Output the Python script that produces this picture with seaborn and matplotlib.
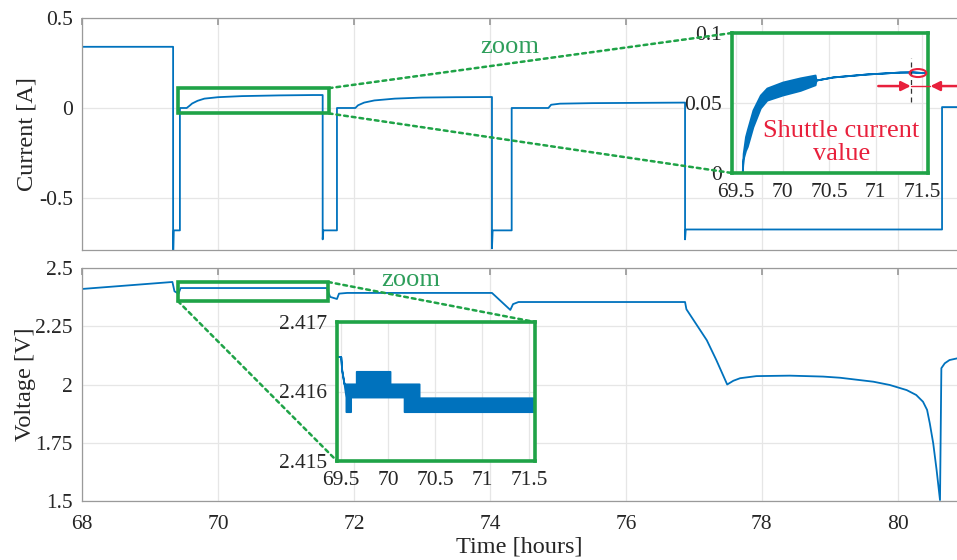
import matplotlib
matplotlib.use("Agg")
import matplotlib.pyplot as plt
import matplotlib.ticker as mticker
from matplotlib.patches import Rectangle, Ellipse, ConnectionPatch
import seaborn as sns

# ---------------- data ----------------
cur_t = [68.0, 69.34, 69.34, 69.35, 69.44, 69.44, 69.54, 69.58, 69.62, 69.70, 69.80,
         70.00, 70.35, 70.90, 71.40, 71.54, 71.54, 71.55, 71.75, 71.75, 72.02, 72.06,
         72.15, 72.30, 72.60, 73.00, 73.50, 74.03, 74.03, 74.04, 74.32, 74.32, 74.86,
         74.90, 75.03, 75.50, 76.40, 76.87, 76.87, 76.88, 80.65, 80.65, 80.90]
cur_v = [0.34, 0.34, -0.85, -0.68, -0.68, 0.0, 0.0, 0.012, 0.025, 0.040, 0.052,
         0.060, 0.066, 0.070, 0.072, 0.072, -0.73, -0.68, -0.68, 0.0, 0.0, 0.015,
         0.030, 0.042, 0.052, 0.058, 0.060, 0.061, -0.78, -0.68, -0.68, 0.0, 0.0,
         0.018, 0.024, 0.027, 0.029, 0.030, -0.73, -0.675, -0.675, 0.005, 0.005]

volt_t = [68.0, 69.33, 69.36, 69.42, 69.45, 71.60, 71.65, 71.75, 71.78, 71.90, 74.03,
          74.06, 74.30, 74.34, 74.42, 76.87, 76.89, 77.19, 77.33, 77.49, 77.58, 77.68,
          77.92, 78.41, 78.90, 79.15, 79.64, 79.88, 80.13, 80.27, 80.37, 80.43, 80.47,
          80.52, 80.57, 80.62, 80.64, 80.69, 80.76, 80.87]
volt_v = [2.41, 2.44, 2.40, 2.39, 2.414, 2.414, 2.376, 2.367, 2.39, 2.393, 2.393,
          2.385, 2.32, 2.345, 2.354, 2.354, 2.323, 2.19, 2.105, 2.0, 2.016, 2.027,
          2.036, 2.038, 2.034, 2.029, 2.012, 1.998, 1.976, 1.955, 1.926, 1.891, 1.833,
          1.748, 1.633, 1.504, 2.07, 2.091, 2.105, 2.112]

# zoomed current (noisy band: upper / lower envelope)
ci_t = [69.565, 69.575, 69.60, 69.62, 69.68, 69.76, 69.83, 70.00, 70.19, 70.35,
        70.36, 70.54, 70.90, 71.26, 71.40, 71.55]
ci_upper = [0.000, 0.014, 0.026, 0.031, 0.045, 0.0557, 0.0607, 0.065, 0.068, 0.070,
            0.0664, 0.0686, 0.0707, 0.0721, 0.0722, 0.0716]
ci_lower = [0.000, 0.010, 0.016, 0.019, 0.033, 0.0464, 0.052, 0.0557, 0.059, 0.063,
            0.0664, 0.0686, 0.0707, 0.0721, 0.0722, 0.0716]

# zoomed voltage (quantised band: upper / lower envelope)
vz_t = [69.44, 69.495, 69.505, 69.53, 69.55, 69.55, 69.60, 69.60, 69.66, 69.66,
        70.02, 70.02, 70.17, 70.17, 70.33, 70.33, 71.56]
vz_upper = [2.41651, 2.41650, 2.41631, 2.41611, 2.41611, 2.41611, 2.41611, 2.41611,
            2.41611, 2.41629, 2.41629, 2.41611, 2.41611, 2.41611, 2.41611, 2.41591, 2.41591]
vz_lower = [2.41651, 2.41650, 2.41631, 2.41611, 2.41592, 2.41571, 2.41571, 2.41592,
            2.41592, 2.41592, 2.41592, 2.41592, 2.41592, 2.41571, 2.41571, 2.41571, 2.41571]

main_xticks = [68, 70, 72, 74, 76, 78, 80]
cur_yticks = [-0.5, 0, 0.5]
volt_yticks = [1.5, 1.75, 2, 2.25, 2.5]
zoom_xticks = [69.5, 70, 70.5, 71, 71.5]
ci_yticks = [0, 0.05, 0.1]
vz_yticks = [2.415, 2.416, 2.417]

cur_box = (69.41, 71.63, -0.03, 0.11)      # zoom rectangle on current plot
volt_box = (69.41, 71.62, 2.358, 2.44)     # zoom rectangle on voltage plot
shuttle_t = 71.38

# ---------------- style ----------------
BLUE = "#0072BD"
GREEN = "#1fa347"
GREEN_TXT = "#2e9e5b"
RED = "#e8203c"
GRID = "#e6e6e6"
SPINE = "#9a9a9a"
TXT = "#262626"

sns.set_theme(style="white")
plt.rcParams['font.family'] = ['Liberation Serif', 'DejaVu Serif']
plt.rcParams['axes.unicode_minus'] = False

W, H = 957, 560
fig = plt.figure(figsize=(W / 100, H / 100), dpi=100)


def px_axes(x0, y0, x1, y1):
    return fig.add_axes([x0 / W, 1 - y1 / H, (x1 - x0) / W, (y1 - y0) / H])


fmt = mticker.FuncFormatter(lambda v, p: f"{v:g}")

ax1 = px_axes(82, 18, 957, 250)
ax2 = px_axes(82, 268, 957, 501)

for ax in (ax1, ax2):
    ax.set_xlim(68, 80.87)
    ax.set_xticks(main_xticks)
    ax.grid(True, color=GRID, lw=0.9)
    ax.set_axisbelow(True)
    for s in ("left", "top", "bottom"):
        ax.spines[s].set_color(SPINE)
        ax.spines[s].set_linewidth(0.9)
    ax.spines["right"].set_visible(False)
    ax.tick_params(direction="in", top=True, length=5, color=SPINE,
                   labelsize=15.5, labelcolor=TXT)
    ax.tick_params(axis="y", pad=6.5)
    ax.tick_params(axis="x", pad=10)
    ax.yaxis.set_major_formatter(fmt)
    ax.xaxis.set_major_formatter(fmt)

sns.lineplot(x=cur_t, y=cur_v, ax=ax1, sort=False, estimator=None,
             color=BLUE, lw=1.3)
ax1.set_ylim(-0.789, 0.5)
ax1.set_yticks(cur_yticks)
ax1.set_xticklabels([])
ax1.set_ylabel("Current [A]", fontsize=17.5, color=TXT)
ax1.yaxis.set_label_coords((38 - 82) / 875, 0.5)

sns.lineplot(x=volt_t, y=volt_v, ax=ax2, sort=False, estimator=None,
             color=BLUE, lw=1.3)
ax2.set_ylim(1.5, 2.5)
ax2.set_yticks(volt_yticks)
ax2.set_ylabel("Voltage [V]", fontsize=17.5, color=TXT)
ax2.yaxis.set_label_coords((36 - 82) / 875, 0.5)
ax2.set_xlabel("Time [hours]", fontsize=17.5, color=TXT, labelpad=2)

# zoom rectangles
x0, x1, y0, y1 = cur_box
ax1.add_patch(Rectangle((x0, y0), x1 - x0, y1 - y0, fill=False, ec=GREEN, lw=2.6, zorder=5))
ax1.text(74.29, 0.339, "zoom", color=GREEN_TXT, fontsize=19, ha="center", va="center")
vx0, vx1, vy0, vy1 = volt_box
ax2.add_patch(Rectangle((vx0, vy0), vx1 - vx0, vy1 - vy0, fill=False, ec=GREEN, lw=2.6, zorder=5))
ax2.text(72.84, 2.447, "zoom", color=GREEN_TXT, fontsize=19, ha="center", va="center")

# ---------------- insets ----------------
ax_ci = px_axes(732, 33, 928, 173)
ax_vz = px_axes(337, 322, 535, 461)

for ax in (ax_ci, ax_vz):
    ax.set_facecolor("white")
    ax.set_xlim(69.455, 71.565)
    ax.set_xticks(zoom_xticks)
    ax.grid(True, color=GRID, lw=0.9)
    ax.set_axisbelow(True)
    for s in ax.spines.values():
        s.set_color(GREEN)
        s.set_linewidth(2.6)
    ax.tick_params(length=0, labelsize=15.5, labelcolor=TXT, pad=7)
    ax.xaxis.set_major_formatter(fmt)
    ax.yaxis.set_major_formatter(fmt)

ax_ci.fill_between(ci_t, ci_lower, ci_upper, color=BLUE, ec=BLUE, lw=1.3)
ax_ci.set_ylim(0, 0.1)
ax_ci.set_yticks(ci_yticks)

ax_vz.fill_between(vz_t, vz_lower, vz_upper, color=BLUE, ec=BLUE, lw=1.3)
ax_vz.set_ylim(2.415, 2.417)
ax_vz.set_yticks(vz_yticks)

# shuttle current annotation
ax_ci.plot([shuttle_t, shuttle_t], [0.0507, 0.0821], color="#333333", lw=0.9,
           ls=(0, (4, 3)), clip_on=False, zorder=6)
ax_ci.add_patch(Ellipse((71.457, 0.0714), 0.18, 0.0057, fill=False, ec=RED, lw=1.5,
                        clip_on=False, zorder=7))
ax_ci.plot([shuttle_t, 71.59], [0.0621, 0.0621], color=RED, lw=1.0, clip_on=False, zorder=7)
arrow = dict(arrowstyle="-|>", color=RED, lw=1.8, mutation_scale=14, shrinkA=0, shrinkB=0)
ax_ci.annotate("", xy=(shuttle_t, 0.0621), xytext=(71.03, 0.0621), arrowprops=arrow,
               annotation_clip=False, zorder=7)
ax_ci.annotate("", xy=(71.59, 0.0621), xytext=(72.0, 0.0621), arrowprops=arrow,
               annotation_clip=False, zorder=7)
ax_ci.text(70.63, 0.0218, "Shuttle current\nvalue", color=RED, fontsize=19,
           ha="center", va="center", linespacing=1.05, zorder=8)

# dotted connectors
dots = dict(color=GREEN, lw=1.8, ls=(0, (1.5, 1.6)))
for xyA, axA, xyB, axB in [((x1, y1), ax1, (0, 1), ax_ci),
                           ((x1, y0), ax1, (0, 0), ax_ci),
                           ((vx1, vy1), ax2, (1, 1), ax_vz),
                           ((vx0, vy0), ax2, (0, 0), ax_vz)]:
    cp = ConnectionPatch(xyA=xyA, coordsA=axA.transData, xyB=xyB, coordsB=axB.transAxes, **dots)
    cp.set_zorder(4)
    fig.add_artist(cp)

fig.savefig("out.png", dpi=100)
